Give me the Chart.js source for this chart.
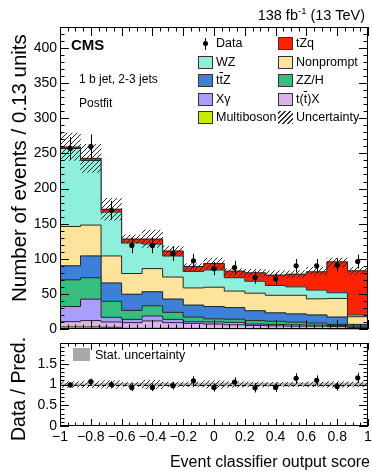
<!DOCTYPE html>
<html>
<head>
<meta charset="utf-8">
<script src="https://cdn.jsdelivr.net/npm/chart.js@4.4.1/dist/chart.umd.min.js"></script>
<style>
  body { margin: 0; background: #fff; }
  #wrap { position: relative; width: 372px; height: 472px; overflow: hidden;
          font-family: "Liberation Sans", Arial, Helvetica, sans-serif; color: #000; }
  canvas { position: absolute; left: 0; }
  .t { position: absolute; white-space: nowrap; line-height: 1; }
  .rot { transform-origin: 0 0; transform: rotate(-90deg); }
  .ov { text-decoration: overline; }
  .sw { position: absolute; box-sizing: border-box; width: 15px; height: 13px; border: 1px solid #333; }
</style>
</head>
<body>
<div id="wrap">
  <canvas id="main" width="372" height="340" style="top:0"></canvas>
  <canvas id="ratio" width="372" height="137" style="top:335px"></canvas>

  <div class="t" style="right:7px;top:7.5px;font-size:14.5px">138 fb<span style="font-size:9.5px;position:relative;top:-6px">-1</span> (13 TeV)</div>
  <div class="t" style="left:71px;top:37px;font-size:15px;font-weight:bold">CMS</div>
  <div class="t" style="left:79px;top:73px;font-size:12px">1 b jet, 2-3 jets</div>
  <div class="t" style="left:79px;top:97px;font-size:12px">Postfit</div>

  <div class="t rot" style="left:9px;top:302px;font-size:20.5px">Number of events / 0.13 units</div>
  <div class="t rot" style="left:9px;top:441px;font-size:19.5px">Data / Pred.</div>
  <div class="t" style="right:2px;top:454px;font-size:16px">Event classifier output score</div>

  <div style="position:absolute;left:73px;top:348px;width:17px;height:13px;background:#a9a9a9"></div>
  <div class="t" style="left:95px;top:348.5px;font-size:12.5px">Stat. uncertainty</div>
</div>

<script>
// bin edges of the classifier score (15 bins of 0.13)
const binEdges = [-1, -0.867, -0.733, -0.6, -0.467, -0.333, -0.2, -0.067, 0.067, 0.2, 0.333, 0.467, 0.6, 0.733, 0.867, 1];
const bins = binEdges.slice(0, -1).map((e, i) => e.toFixed(2) + ' to ' + binEdges[i + 1].toFixed(2));

// postfit yields per bin (bottom of the stack first)
const multiboson = [3, 3, 2.5, 1, 1, 1, 0.8, 0.6, 0.5, 0.4, 0.3, 0.3, 0.3, 0.2, 0.2];
const ttX        = [7.5, 9, 7.5, 8, 10.5, 8, 7.2, 6.4, 5.5, 4.6, 4.2, 3.7, 3.7, 3.3, 1.8];
const xGamma     = [21.5, 30.5, 6.6, 4.7, 7, 4.7, 2.4, 3, 3.4, 2, 2, 2, 1.5, 1.5, 1];
const zzH        = [38, 30.5, 22.9, 12.8, 14.5, 10, 6.6, 4.5, 4.6, 5, 4.5, 3.7, 3, 1.6, 1.3];
const ttZ        = [20, 31, 26, 23, 20, 18.9, 17, 17.5, 16.5, 14, 12, 11.8, 11.5, 10.4, 2.3];
const nonprompt  = [56, 44, 38.5, 29.5, 33, 31.4, 24.5, 27.5, 23.5, 25, 25, 26.5, 23, 26.5, 10.9];
const wz         = [111, 92, 62.5, 43.5, 35, 30, 23.5, 24.5, 19, 17, 14, 12, 12.4, 8.1, 2.5];
const tzq        = [2, 3, 4, 5.5, 7, 7, 7, 9.3, 9.4, 12, 14.7, 18, 26, 44, 62.8];

// total uncertainty band (lower / upper edge)
const uncLow  = [240, 223, 155, 122, 116, 104, 83, 85, 75, 74, 74, 73, 77, 88, 77];
const uncHigh = [279, 263, 186, 134, 141, 118, 93, 101, 86, 85, 83, 83, 88, 101, 88];

// observed data
const dataCounts = [257, 260, 169, 119, 119, 107.5, 97, 86, 87.6, 73.4, 71.5, 90, 90, 91, 96];
const dataErr    = [16, 17, 13.5, 11, 11, 10.5, 10, 9.5, 9.5, 8.8, 8.6, 9.6, 9.6, 9.7, 10];

// ratio panel
const ratio     = [0.99, 1.07, 1.0, 0.93, 0.93, 0.97, 1.09, 0.93, 1.06, 0.92, 0.93, 1.15, 1.1, 0.95, 1.16];
const ratioErr  = [0.06, 0.07, 0.08, 0.09, 0.09, 0.09, 0.11, 0.1, 0.11, 0.11, 0.11, 0.12, 0.12, 0.1, 0.12];
const ratioUnc  = [0.07, 0.08, 0.09, 0.05, 0.1, 0.06, 0.06, 0.09, 0.07, 0.06, 0.05, 0.05, 0.06, 0.07, 0.06];
const ratioStat = [0.02, 0.02, 0.025, 0.03, 0.03, 0.03, 0.03, 0.035, 0.035, 0.035, 0.035, 0.035, 0.035, 0.035, 0.035];

// tick labels
const xTicks = [-1, -0.8, -0.6, -0.4, -0.2, 0, 0.2, 0.4, 0.6, 0.8, 1];
const yTicksMain = [0, 50, 100, 150, 200, 250, 300, 350, 400];
const yTicksRatio = [0, 0.5, 1, 1.5];

const FONT = '"Liberation Sans", Arial, Helvetica, sans-serif';

const stack = [
  { label: 'Multiboson', data: multiboson, color: '#c8ec00' },
  { label: 't(t\u0305)X', data: ttX,       color: '#dbb2ea' },
  { label: 'X\u03b3',     data: xGamma,    color: '#ab9dfd' },
  { label: 'ZZ/H',        data: zzH,       color: '#35be80' },
  { label: 'tt\u0305Z',   data: ttZ,       color: '#3e80d8' },
  { label: 'Nonprompt',   data: nonprompt, color: '#fee39b' },
  { label: 'WZ',          data: wz,        color: '#8fefdd' },
  { label: 'tZq',         data: tzq,       color: '#ff2200' }
];

function makeHatch() {
  const c = document.createElement('canvas');
  c.width = 5; c.height = 5;
  const g = c.getContext('2d');
  g.strokeStyle = '#2a2a2a';
  g.lineWidth = 1;
  g.beginPath();
  g.moveTo(0, 5); g.lineTo(5, 0);
  g.moveTo(-1, 1); g.lineTo(1, -1);
  g.moveTo(4, 6); g.lineTo(6, 4);
  g.stroke();
  return g.createPattern(c, 'repeat');
}
const hatch = makeHatch();

// step outline on top of each stacked histogram
const outlinePlugin = {
  id: 'outline',
  afterDatasetDraw(chart, args) {
    const ds = chart.data.datasets[args.index];
    if (!ds.outline) return;
    const ctx = chart.ctx;
    ctx.save();
    ctx.strokeStyle = '#262626';
    ctx.lineWidth = 1;
    ctx.beginPath();
    args.meta.data.forEach((b, i) => {
      const l = b.x - b.width / 2, r = b.x + b.width / 2;
      if (i === 0) ctx.moveTo(l, b.y); else ctx.lineTo(l, b.y);
      ctx.lineTo(r, b.y);
    });
    ctx.stroke();
    ctx.restore();
  }
};

// vertical error bars on data points
const errorPlugin = {
  id: 'errbars',
  afterDatasetsDraw(chart) {
    const ctx = chart.ctx;
    chart.data.datasets.forEach((ds, i) => {
      if (!ds.errors) return;
      const meta = chart.getDatasetMeta(i);
      const ys = chart.scales[meta.yAxisID];
      ctx.save();
      ctx.strokeStyle = '#000';
      ctx.lineWidth = 1;
      meta.data.forEach((p, j) => {
        const x = Math.round(p.x) + 0.5;
        ctx.beginPath();
        ctx.moveTo(x, ys.getPixelForValue(ds.data[j] - ds.errors[j]));
        ctx.lineTo(x, ys.getPixelForValue(ds.data[j] + ds.errors[j]));
        ctx.stroke();
      });
      ctx.restore();
    });
  }
};

// dashed line at ratio = 1, under the points
const unityPlugin = {
  id: 'unity',
  beforeDatasetDraw(chart, args) {
    if (args.meta.type !== 'line') return;
    const ctx = chart.ctx, a = chart.chartArea;
    const y = Math.round(chart.scales.y.getPixelForValue(1)) + 0.5;
    ctx.save();
    ctx.strokeStyle = '#000';
    ctx.lineWidth = 1;
    ctx.setLineDash([4, 3]);
    ctx.beginPath();
    ctx.moveTo(a.left, y); ctx.lineTo(a.right, y);
    ctx.stroke();
    ctx.restore();
  }
};

// ROOT style frame with inward ticks on all four sides
const framePlugin = {
  id: 'frame',
  afterDraw(chart, args, o) {
    const ctx = chart.ctx, a = chart.chartArea;
    const xs = chart.scales.xv, ys = chart.scales.y;
    ctx.save();
    ctx.strokeStyle = '#000';
    ctx.lineWidth = 1;
    ctx.strokeRect(a.left + 0.5, a.top + 0.5, a.right - a.left - 1, a.bottom - a.top - 1);
    ctx.beginPath();
    const nx = Math.round((xs.max - xs.min) / o.xMinor);
    for (let i = 0; i <= nx; i++) {
      const v = xs.min + i * o.xMinor;
      const major = Math.abs(v / o.xMajor - Math.round(v / o.xMajor)) < 1e-6;
      const len = major ? o.xLen : o.xLen / 2;
      const x = Math.round(xs.getPixelForValue(v)) + 0.5;
      ctx.moveTo(x, a.bottom); ctx.lineTo(x, a.bottom - len);
      ctx.moveTo(x, a.top); ctx.lineTo(x, a.top + len);
    }
    const ny = Math.round((ys.max - ys.min) / o.yMinor);
    for (let i = 0; i <= ny; i++) {
      const v = ys.min + i * o.yMinor;
      const major = Math.abs(v / o.yMajor - Math.round(v / o.yMajor)) < 1e-6;
      const len = major ? o.yLen : o.yLen / 2;
      const y = Math.round(ys.getPixelForValue(v)) + 0.5;
      ctx.moveTo(a.left, y); ctx.lineTo(a.left + len, y);
      ctx.moveTo(a.right, y); ctx.lineTo(a.right - len, y);
    }
    ctx.stroke();
    ctx.restore();
  }
};

function fitY(s) { s.width = 60; s.paddingTop = 0; s.paddingBottom = 0; }
function fitX(s) { s.paddingLeft = 0; s.paddingRight = 0; }
const tickFont = { family: FONT, size: 14 };

new Chart(document.getElementById('main'), {
  type: 'bar',
  data: {
    labels: bins,
    datasets: [
      ...stack.map(p => ({
        label: p.label, data: p.data, backgroundColor: p.color,
        stack: 'mc', order: 2, outline: true
      })),
      {
        label: 'Uncertainty', data: uncLow.map((l, i) => [l, uncHigh[i]]),
        backgroundColor: hatch, stack: 'unc', order: 1
      },
      {
        type: 'line', label: 'Data', data: dataCounts, errors: dataErr,
        showLine: false, pointRadius: 2.6, pointBackgroundColor: '#000',
        pointBorderWidth: 0, stack: 'data', order: 0
      }
    ]
  },
  options: {
    responsive: false,
    animation: false,
    layout: { padding: { left: 0, right: 2, top: 27, bottom: 11 } },
    datasets: { bar: { grouped: false, categoryPercentage: 1, barPercentage: 1, borderWidth: 0 } },
    plugins: {
      legend: { display: false },
      tooltip: { enabled: false },
      frame: { xMajor: 0.2, xMinor: 0.05, xLen: 9, yMajor: 50, yMinor: 10, yLen: 9 }
    },
    scales: {
      x: { display: false, offset: true, afterFit: fitX },
      xv: { type: 'linear', position: 'bottom', display: false, offset: false, min: -1, max: 1, afterFit: fitX },
      y: {
        stacked: true, min: 0, max: 430,
        afterFit: fitY,
        afterBuildTicks: s => { s.ticks = yTicksMain.map(v => ({ value: v })); },
        grid: { display: false, drawTicks: false },
        border: { display: false },
        ticks: { padding: 3, color: '#000', font: tickFont }
      }
    }
  },
  plugins: [outlinePlugin, errorPlugin, framePlugin]
});

new Chart(document.getElementById('ratio'), {
  type: 'bar',
  data: {
    labels: bins,
    datasets: [
      {
        label: 'Stat. uncertainty', data: ratioStat.map(s => [1 - s, 1 + s]),
        backgroundColor: '#b4b4b4', order: 2
      },
      {
        label: 'Uncertainty', data: ratioUnc.map(u => [1 - u, 1 + u]),
        backgroundColor: hatch, order: 1
      },
      {
        type: 'line', label: 'Data / Pred.', data: ratio, errors: ratioErr,
        showLine: false, pointRadius: 2.6, pointBackgroundColor: '#000',
        pointBorderWidth: 0, order: 0
      }
    ]
  },
  options: {
    responsive: false,
    animation: false,
    layout: { padding: { left: 0, right: 2, top: 8, bottom: 26 } },
    datasets: { bar: { grouped: false, categoryPercentage: 1, barPercentage: 1, borderWidth: 0 } },
    plugins: {
      legend: { display: false },
      tooltip: { enabled: false },
      frame: { xMajor: 0.2, xMinor: 0.05, xLen: 7, yMajor: 0.5, yMinor: 0.1, yLen: 9 }
    },
    scales: {
      x: { display: false, offset: true, afterFit: fitX },
      xv: {
        type: 'linear', position: 'bottom', offset: false, min: -1, max: 1,
        afterFit: s => { fitX(s); s.height = 20; },
        afterBuildTicks: s => { s.ticks = xTicks.map(v => ({ value: v })); },
        grid: { display: false, drawTicks: false, offset: false },
        border: { display: false },
        ticks: {
          padding: 3, color: '#000', font: tickFont, maxRotation: 0, autoSkip: false,
          callback: v => (v < 0 ? '\u2212' + Math.abs(v) : String(v))
        }
      },
      y: {
        min: 0, max: 2,
        afterFit: fitY,
        afterBuildTicks: s => { s.ticks = yTicksRatio.map(v => ({ value: v })); },
        grid: { display: false, drawTicks: false },
        border: { display: false },
        ticks: { padding: 3, color: '#000', font: tickFont, callback: v => String(v) }
      }
    }
  },
  plugins: [unityPlugin, errorPlugin, framePlugin]
});

// legend (two columns, as in the original figure)
const wrap = document.getElementById('wrap');
const rowY = [43.5, 62, 80.5, 99, 117.5];
const legendCols = [
  { box: 198, text: 216, items: ['Data', 'WZ', 'tt\u0305Z', 'X\u03b3', 'Multiboson'] },
  { box: 278, text: 296, items: ['tZq', 'Nonprompt', 'ZZ/H', 't(t\u0305)X', 'Uncertainty'] }
];
const legendHtml = {
  'tt\u0305Z': 't<span class="ov">t</span>Z',
  't(t\u0305)X': 't(<span class="ov">t</span>)X'
};
legendCols.forEach(col => {
  col.items.forEach((name, r) => {
    const cy = rowY[r];
    if (name === 'Data') {
      const bar = document.createElement('div');
      bar.style.cssText = `position:absolute;left:${col.box + 7}px;top:${cy - 6}px;width:1px;height:12px;background:#000`;
      const dot = document.createElement('div');
      dot.style.cssText = `position:absolute;left:${col.box + 5}px;top:${cy - 2.5}px;width:5px;height:5px;border-radius:50%;background:#000`;
      wrap.appendChild(bar); wrap.appendChild(dot);
    } else if (name === 'Uncertainty') {
      const sw = document.createElement('div');
      sw.style.cssText = `position:absolute;left:${col.box}px;top:${cy - 6.5}px;width:15px;height:13px;` +
        'background:repeating-linear-gradient(-45deg,#2a2a2a 0 1px,transparent 1px 3.5px)';
      wrap.appendChild(sw);
    } else {
      const p = stack.find(s => s.label === name);
      const sw = document.createElement('div');
      sw.className = 'sw';
      sw.style.left = col.box + 'px';
      sw.style.top = (cy - 6.5) + 'px';
      sw.style.background = p.color;
      wrap.appendChild(sw);
    }
    const t = document.createElement('div');
    t.className = 't';
    t.style.left = col.text + 'px';
    t.style.top = (cy - 6.1) + 'px';
    t.style.fontSize = '12.5px';
    t.innerHTML = legendHtml[name] || name;
    wrap.appendChild(t);
  });
});
</script>
</body>
</html>
